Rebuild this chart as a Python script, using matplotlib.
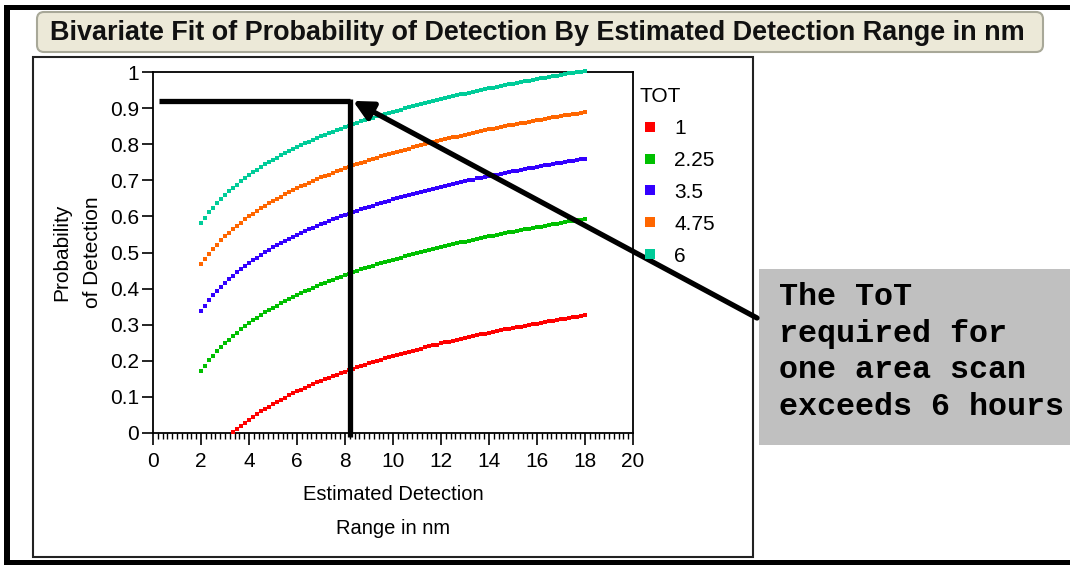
import numpy as np
import matplotlib
matplotlib.use("Agg")
import matplotlib.pyplot as plt
from matplotlib import font_manager
from matplotlib.patches import Rectangle, FancyBboxPatch
from matplotlib.ticker import MultipleLocator

# ---------------- data ----------------
title = "Bivariate Fit of Probability of Detection By Estimated Detection Range in nm"
tot_levels = ["1", "2.25", "3.5", "4.75", "6"]
tot_colors = ["#FF0000", "#00C000", "#3300FF", "#FF6600", "#00CC99"]

range_nm = [2.000, 2.167, 2.333, 2.500, 2.667, 2.833,
            3.000, 3.167, 3.333, 3.500, 3.667, 3.833,
            4.000, 4.167, 4.333, 4.500, 4.667, 4.833,
            5.000, 5.167, 5.333, 5.500, 5.667, 5.833,
            6.000, 6.167, 6.333, 6.500, 6.667, 6.833,
            7.000, 7.167, 7.333, 7.500, 7.667, 7.833,
            8.000, 8.167, 8.333, 8.500, 8.667, 8.833,
            9.000, 9.167, 9.333, 9.500, 9.667, 9.833,
            10.000, 10.167, 10.333, 10.500, 10.667, 10.833,
            11.000, 11.167, 11.333, 11.500, 11.667, 11.833,
            12.000, 12.167, 12.333, 12.500, 12.667, 12.833,
            13.000, 13.167, 13.333, 13.500, 13.667, 13.833,
            14.000, 14.167, 14.333, 14.500, 14.667, 14.833,
            15.000, 15.167, 15.333, 15.500, 15.667, 15.833,
            16.000, 16.167, 16.333, 16.500, 16.667, 16.833,
            17.000, 17.167, 17.333, 17.500, 17.667, 17.833,
            18.000]

pod_tot_1 = [0.002, 0.011, 0.020, 0.029, 0.037, 0.045, 0.052, 0.060, 0.067, 0.073,
             0.080, 0.086, 0.092, 0.098, 0.104, 0.110, 0.115, 0.120, 0.125, 0.130,
             0.135, 0.140, 0.145, 0.149, 0.153, 0.158, 0.162, 0.166, 0.170, 0.174,
             0.178, 0.182, 0.186, 0.189, 0.193, 0.196, 0.200, 0.203, 0.207, 0.210,
             0.213, 0.216, 0.219, 0.222, 0.225, 0.228, 0.231, 0.234, 0.237, 0.240,
             0.243, 0.245, 0.248, 0.251, 0.253, 0.256, 0.258, 0.261, 0.263, 0.266,
             0.268, 0.271, 0.273, 0.275, 0.278, 0.280, 0.282, 0.284, 0.287, 0.289,
             0.291, 0.293, 0.295, 0.297, 0.299, 0.301, 0.303, 0.305, 0.307, 0.309,
             0.311, 0.313, 0.315, 0.317, 0.319, 0.320, 0.322, 0.324, 0.326]

pod_tot_2_25 = [0.171, 0.186, 0.201, 0.214, 0.226, 0.238, 0.249, 0.259, 0.269, 0.278,
                0.287, 0.296, 0.304, 0.312, 0.319, 0.327, 0.334, 0.340, 0.347, 0.353,
                0.359, 0.365, 0.371, 0.377, 0.382, 0.387, 0.392, 0.397, 0.402, 0.407,
                0.412, 0.416, 0.420, 0.425, 0.429, 0.433, 0.437, 0.441, 0.445, 0.449,
                0.453, 0.456, 0.460, 0.463, 0.467, 0.470, 0.474, 0.477, 0.480, 0.483,
                0.486, 0.489, 0.492, 0.495, 0.498, 0.501, 0.504, 0.507, 0.510, 0.512,
                0.515, 0.518, 0.520, 0.523, 0.525, 0.528, 0.530, 0.533, 0.535, 0.538,
                0.540, 0.542, 0.545, 0.547, 0.549, 0.551, 0.554, 0.556, 0.558, 0.560,
                0.562, 0.564, 0.566, 0.568, 0.570, 0.572, 0.574, 0.576, 0.578, 0.580,
                0.582, 0.584, 0.586, 0.587, 0.589, 0.591, 0.593]

pod_tot_3_5 = [0.338, 0.353, 0.368, 0.381, 0.393, 0.405, 0.416, 0.426, 0.436, 0.445,
               0.454, 0.463, 0.471, 0.479, 0.486, 0.494, 0.501, 0.507, 0.514, 0.520,
               0.526, 0.532, 0.538, 0.544, 0.549, 0.554, 0.559, 0.564, 0.569, 0.574,
               0.579, 0.583, 0.587, 0.592, 0.596, 0.600, 0.604, 0.608, 0.612, 0.616,
               0.620, 0.623, 0.627, 0.630, 0.634, 0.637, 0.641, 0.644, 0.647, 0.650,
               0.653, 0.656, 0.659, 0.662, 0.665, 0.668, 0.671, 0.674, 0.677, 0.679,
               0.682, 0.685, 0.687, 0.690, 0.692, 0.695, 0.697, 0.700, 0.702, 0.705,
               0.707, 0.709, 0.712, 0.714, 0.716, 0.718, 0.721, 0.723, 0.725, 0.727,
               0.729, 0.731, 0.733, 0.735, 0.737, 0.739, 0.741, 0.743, 0.745, 0.747,
               0.749, 0.751, 0.753, 0.754, 0.756, 0.758, 0.760]

pod_tot_4_75 = [0.467, 0.482, 0.497, 0.510, 0.522, 0.534, 0.545, 0.555, 0.565, 0.574,
                0.583, 0.592, 0.600, 0.608, 0.615, 0.623, 0.630, 0.636, 0.643, 0.649,
                0.655, 0.661, 0.667, 0.673, 0.678, 0.683, 0.688, 0.693, 0.698, 0.703,
                0.708, 0.712, 0.716, 0.721, 0.725, 0.729, 0.733, 0.737, 0.741, 0.745,
                0.749, 0.752, 0.756, 0.759, 0.763, 0.766, 0.770, 0.773, 0.776, 0.779,
                0.782, 0.785, 0.788, 0.791, 0.794, 0.797, 0.800, 0.803, 0.806, 0.808,
                0.811, 0.814, 0.816, 0.819, 0.821, 0.824, 0.826, 0.829, 0.831, 0.834,
                0.836, 0.838, 0.841, 0.843, 0.845, 0.847, 0.850, 0.852, 0.854, 0.856,
                0.858, 0.860, 0.862, 0.864, 0.866, 0.868, 0.870, 0.872, 0.874, 0.876,
                0.878, 0.880, 0.882, 0.883, 0.885, 0.887, 0.889]

pod_tot_6 = [0.581, 0.596, 0.611, 0.624, 0.636, 0.648, 0.659, 0.669, 0.679, 0.688,
             0.697, 0.706, 0.714, 0.722, 0.729, 0.737, 0.744, 0.750, 0.757, 0.763,
             0.769, 0.775, 0.781, 0.787, 0.792, 0.797, 0.802, 0.807, 0.812, 0.817,
             0.822, 0.826, 0.830, 0.835, 0.839, 0.843, 0.847, 0.851, 0.855, 0.859,
             0.863, 0.866, 0.870, 0.873, 0.877, 0.880, 0.884, 0.887, 0.890, 0.893,
             0.896, 0.899, 0.902, 0.905, 0.908, 0.911, 0.914, 0.917, 0.920, 0.922,
             0.925, 0.928, 0.930, 0.933, 0.935, 0.938, 0.940, 0.943, 0.945, 0.948,
             0.950, 0.952, 0.955, 0.957, 0.959, 0.961, 0.964, 0.966, 0.968, 0.970,
             0.972, 0.974, 0.976, 0.978, 0.980, 0.982, 0.984, 0.986, 0.988, 0.990,
             0.992, 0.994, 0.996, 0.997, 0.999, 1.001, 1.003]

red_start = 8  # TOT=1 curve begins where probability reaches zero

x_ticks = [0, 2, 4, 6, 8, 10, 12, 14, 16, 18, 20]
x_tick_labels = ["0", "2", "4", "6", "8", "10", "12", "14", "16", "18", "20"]
y_ticks = [0, 0.1, 0.2, 0.3, 0.4, 0.5, 0.6, 0.7, 0.8, 0.9, 1.0]
y_tick_labels = ["0", "0.1", "0.2", "0.3", "0.4", "0.5", "0.6", "0.7", "0.8", "0.9", "1"]

ref_range = 8.22
ref_pod = 0.92
ref_line_start = 0.25
arrow_tip_range = 8.33
note_lines = ["The ToT", "required for", "one area scan", "exceeds 6 hours"]

assert len(range_nm) == 97
for s in (pod_tot_2_25, pod_tot_3_5, pod_tot_4_75, pod_tot_6):
    assert len(s) == 97, len(s)
assert len(pod_tot_1) == 97 - red_start, len(pod_tot_1)

# ---------------- fonts ----------------
names = {f.name for f in font_manager.fontManager.ttflist}
SANS = "Liberation Sans" if "Liberation Sans" in names else "DejaVu Sans"
MONO = "Liberation Mono" if "Liberation Mono" in names else "DejaVu Sans Mono"
plt.rcParams["font.family"] = [SANS, "DejaVu Sans"]

# ---------------- figure ----------------
W, H = 1070, 565
DPI = 100
fig = plt.figure(figsize=(W / DPI, H / DPI), dpi=DPI)
fig.patch.set_facecolor("white")

bg = fig.add_axes([0, 0, 1, 1], zorder=0)
bg.set_xlim(0, W)
bg.set_ylim(H, 0)
bg.axis("off")

# outer thick borders
bg.add_patch(Rectangle((4, 5), W - 4, 5, color="black", lw=0))
bg.add_patch(Rectangle((4, 5), 6, H - 5, color="black", lw=0))
bg.add_patch(Rectangle((4, 560), W - 4, 5, color="black", lw=0))

# title box
bg.add_patch(FancyBboxPatch((37, 12), 1006, 40, boxstyle="round,pad=0,rounding_size=7",
                            fc="#ECE9D8", ec="#A8A898", lw=1.5))
renderer = fig.canvas.get_renderer()


def fit_text(t, target_w):
    bb = t.get_window_extent(renderer=renderer)
    t.set_fontsize(t.get_fontsize() * target_w / bb.width)


ttl = bg.text(50, 33, title, fontsize=15, fontweight="bold", ha="left", va="center",
              color="#111111")
fit_text(ttl, 983)

# panel
bg.add_patch(Rectangle((33, 57), 720, 500, fc="white", ec="#222222", lw=1.5))

# note box
bg.add_patch(Rectangle((759, 269), 311, 176, fc="#C0C0C0", ec="none"))
baselines = [305, 342, 378, 415]
note_texts = []
for line, yb in zip(note_lines, baselines):
    t = bg.text(779, yb, line, fontsize=22, fontweight="bold", family=MONO,
                ha="left", va="baseline", color="black")
    note_texts.append(t)
fit_text(note_texts[-1], 285)
for t in note_texts:
    t.set_fontsize(note_texts[-1].get_fontsize())

# ---------------- plot axes ----------------
ax = fig.add_axes([153 / W, (H - 433) / H, 480 / W, 361 / H], zorder=1)
ax.set_facecolor("none")
ax.set_xlim(0, 20)
ax.set_ylim(0, 1)

series = [pod_tot_1, pod_tot_2_25, pod_tot_3_5, pod_tot_4_75, pod_tot_6]
handles = []
for i, (lvl, col, vals) in enumerate(zip(tot_levels, tot_colors, series)):
    xs = range_nm[red_start:] if i == 0 else range_nm
    ln, = ax.plot(xs, vals, ls="none", marker="s", ms=2.6, mew=0, color=col,
                  clip_on=False, label=lvl, zorder=3)
    handles.append(ln)

for sp in ax.spines.values():
    sp.set_linewidth(1.3)
    sp.set_color("black")

ax.set_xticks(x_ticks, labels=x_tick_labels)
ax.set_yticks(y_ticks, labels=y_tick_labels)
ax.xaxis.set_minor_locator(MultipleLocator(0.2))
ax.tick_params(axis="x", which="major", direction="out", length=8.5, width=1.2,
               pad=5, labelsize=15)
ax.tick_params(axis="x", which="minor", direction="out", length=4.5, width=1.0)
ax.tick_params(axis="y", which="major", direction="out", length=8, width=1.2,
               pad=2, labelsize=15)

# x-axis label (two lines)
fig.text(393 / W, 1 - 495 / H, "Estimated Detection", ha="center", va="center",
         fontsize=14.5)
fig.text(393 / W, 1 - 528 / H, "Range in nm", ha="center", va="center",
         fontsize=14.5)
# y-axis label (two lines, rotated)
fig.text(62 / W, 1 - 252 / H, "Probability", ha="center", va="center",
         rotation=90, fontsize=15)
fig.text(92 / W, 1 - 252 / H, "of Detection", ha="center", va="center",
         rotation=90, fontsize=15)

# legend
leg = ax.legend(handles=handles, title="TOT", loc="upper left",
                bbox_to_anchor=(640 / W, 1 - 87 / H), bbox_transform=fig.transFigure,
                frameon=False, alignment="left", fontsize=15, title_fontsize=15,
                markerscale=2.5, handlelength=1.0, handletextpad=0.65,
                labelspacing=0.62, borderpad=0, borderaxespad=0)

# reference lines
ax.plot([ref_line_start, ref_range], [ref_pod, ref_pod], color="black", lw=3.8,
        solid_capstyle="butt", clip_on=False, zorder=4)
ax.plot([ref_range, ref_range], [ref_pod + 0.006, -0.012], color="black", lw=3.8,
        solid_capstyle="butt", clip_on=False, zorder=4)

# arrow from the note box to the reference point
ax.annotate("", xy=(arrow_tip_range, ref_pod), xycoords="data",
            xytext=(757, H - 318), textcoords="figure pixels",
            arrowprops=dict(arrowstyle="-|>,head_length=0.9,head_width=0.45",
                            lw=3.8, color="black", mutation_scale=13,
                            shrinkA=0, shrinkB=0),
            annotation_clip=False, zorder=5)

fig.savefig("out.png", dpi=DPI)
